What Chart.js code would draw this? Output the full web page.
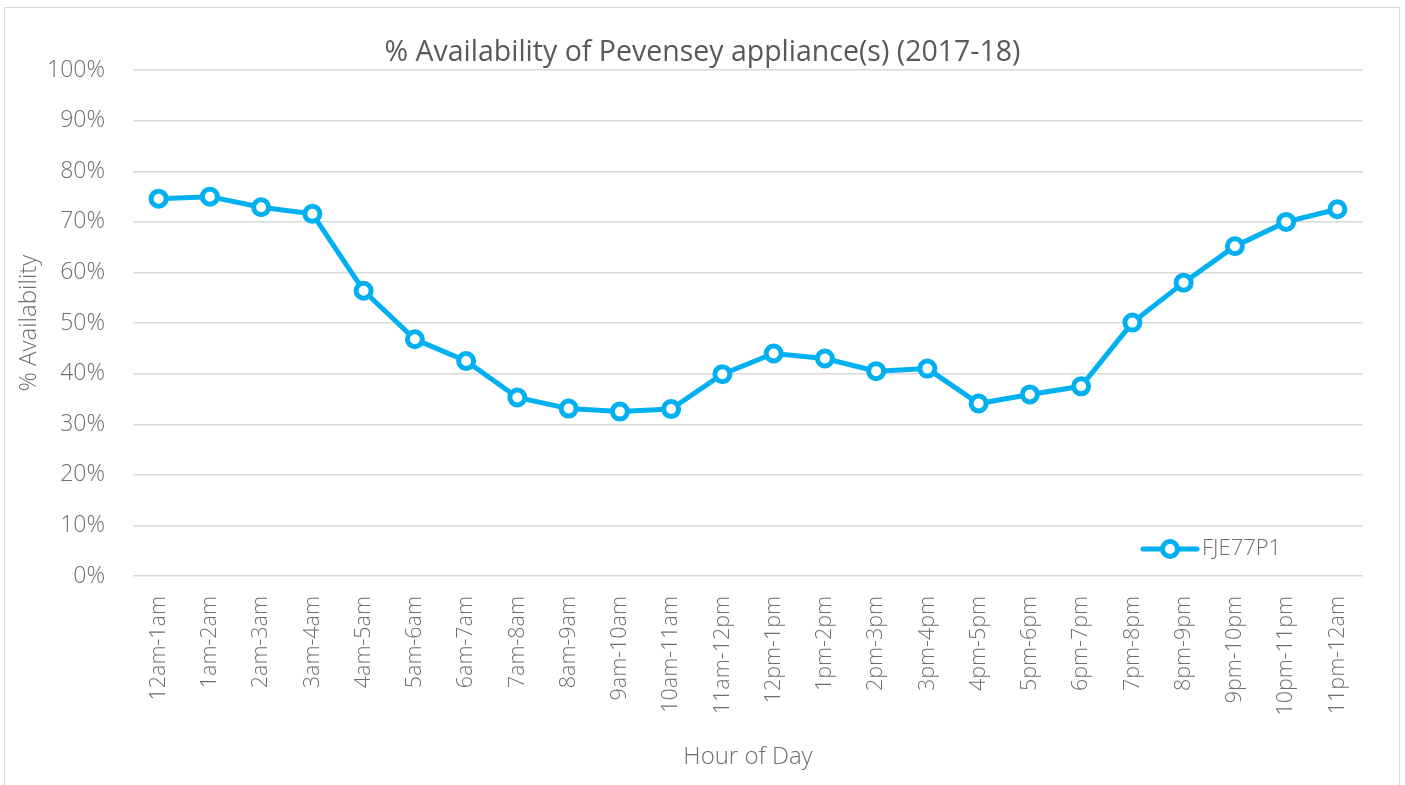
<!DOCTYPE html>
<html>
<head>
<meta charset="utf-8">
<script src="https://cdn.jsdelivr.net/npm/chart.js@4"></script>
<style>
  html, body { margin: 0; padding: 0; background: #fff; overflow: hidden; }
  #frame { position: absolute; left: 4px; top: 7px; width: 1396px; height: 800px; border: 1.5px solid #d9d9d9; box-sizing: border-box; }
  #wrap { position: absolute; left: 0; top: 0; width: 1405px; height: 785px; }
</style>
</head>
<body>
<div id="frame"></div>
<div id="wrap"><canvas id="availabilityChart"></canvas></div>
<script>
const hourLabels = ['12am-1am', '1am-2am', '2am-3am', '3am-4am', '4am-5am', '5am-6am',
    '6am-7am', '7am-8am', '8am-9am', '9am-10am', '10am-11am', '11am-12pm',
    '12pm-1pm', '1pm-2pm', '2pm-3pm', '3pm-4pm', '4pm-5pm', '5pm-6pm',
    '6pm-7pm', '7pm-8pm', '8pm-9pm', '9pm-10pm', '10pm-11pm', '11pm-12am'];
const fje77p1Values = [74.6, 75.0, 72.9, 71.6, 56.4, 46.8, 42.5, 35.3, 33.1, 32.5, 33.0, 39.9,
    44.0, 43.0, 40.5, 41.0, 34.1, 35.9, 37.5, 50.1, 58.0, 65.2, 70.0, 72.5];
const yTicks = [0, 10, 20, 30, 40, 50, 60, 70, 80, 90, 100];

const lineBlue = 'rgb(0, 176, 240)';
const fontFamily = '"Open Sans", "Segoe UI", sans-serif';

// Legend drawn inside the plot area, like the original
const insideLegend = {
    id: 'insideLegend',
    afterDraw(chart) {
        const ctx = chart.ctx;
        const ds = chart.data.datasets[0];
        const x = 1143, y = 549;
        ctx.save();
        ctx.strokeStyle = ds.borderColor;
        ctx.lineWidth = ds.borderWidth;
        ctx.lineCap = 'round';
        ctx.beginPath();
        ctx.moveTo(x, y);
        ctx.lineTo(x + 54, y);
        ctx.stroke();
        ctx.beginPath();
        ctx.arc(x + 27, y, ds.pointRadius, 0, Math.PI * 2);
        ctx.fillStyle = '#fff';
        ctx.fill();
        ctx.lineWidth = ds.pointBorderWidth;
        ctx.stroke();
        ctx.fillStyle = '#6e6e6e';
        ctx.font = '300 22px ' + fontFamily;
        ctx.textBaseline = 'middle';
        ctx.fillText(ds.label, x + 59, y);
        ctx.restore();
    }
};

function initializeChart() {
    new Chart(document.getElementById('availabilityChart'), {
        type: 'line',
        data: {
            labels: hourLabels,
            datasets: [{
                label: 'FJE77P1',
                data: fje77p1Values,
                borderColor: lineBlue,
                borderWidth: 5,
                pointRadius: 7.5,
                pointBorderWidth: 5,
                pointBackgroundColor: '#fff',
                pointBorderColor: lineBlue,
                tension: 0
            }]
        },
        options: {
            responsive: true,
            maintainAspectRatio: false,
            animation: false,
            layout: { padding: { left: 0, right: 0, top: 0, bottom: 0 } },
            plugins: {
                legend: { display: false },
                tooltip: { enabled: false },
                title: {
                    display: true,
                    text: '% Availability of Pevensey appliance(s) (2017-18)',
                    color: '#595959',
                    font: { family: fontFamily, size: 28.5, weight: '400' },
                    padding: { top: 36, bottom: 0 }
                }
            },
            scales: {
                x: {
                    offset: true,
                    grid: { display: false, drawTicks: false },
                    border: { display: false },
                    ticks: {
                        color: '#6e6e6e',
                        font: { family: fontFamily, size: 21.5, weight: '300' },
                        minRotation: 90,
                        maxRotation: 90,
                        autoSkip: false,
                        padding: 20
                    },
                    title: {
                        display: true,
                        text: 'Hour of Day',
                        color: '#6e6e6e',
                        font: { family: fontFamily, size: 24, weight: '300' },
                        padding: { top: 0, bottom: 13 }
                    },
                    afterFit: s => { s.height = 209; }
                },
                y: {
                    min: 0,
                    max: 100,
                    afterBuildTicks: s => { s.ticks = yTicks.map(v => ({ value: v })); },
                    grid: { color: '#d9d9d9', lineWidth: 1.5, drawTicks: false },
                    border: { display: false },
                    ticks: {
                        color: '#6e6e6e',
                        font: { family: fontFamily, size: 23, weight: '300' },
                        padding: 28,
                        callback: v => v + '%'
                    },
                    title: {
                        display: true,
                        text: '% Availability',
                        color: '#6e6e6e',
                        font: { family: fontFamily, size: 24, weight: '300' },
                        padding: { top: 15, bottom: 0 }
                    },
                    afterFit: s => { s.width = 133; }
                },
                yRight: {
                    position: 'right',
                    display: true,
                    grid: { display: false, drawTicks: false },
                    border: { display: false },
                    ticks: { display: false },
                    afterFit: s => { s.width = 42; }
                }
            }
        },
        plugins: [insideLegend]
    });
}

document.addEventListener('DOMContentLoaded', initializeChart);
</script>
</body>
</html>
